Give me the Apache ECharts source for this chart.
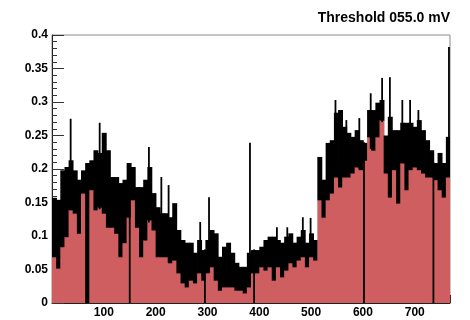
<!DOCTYPE html>
<html>
<head>
<meta charset="utf-8">
<script src="https://cdn.jsdelivr.net/npm/echarts@6/dist/echarts.min.js"></script>
<style>
html,body{margin:0;padding:0;background:#fff;}
#chart{width:470px;height:320px;}
</style>
</head>
<body>
<div id="chart"></div>
<script>
// Histogram: 96 bins of 8 channels each (0..768)
const binWidth = 8;
// top of the black error band per bin
const hiVals = [
0.157,0.154,0.198,0.203,0.213,0.198,0.184,0.198,0.209,0.213,0.228,0.224,0.254,0.228,0.188,0.188,
0.179,0.184,0.209,0.203,0.173,0.173,0.184,0.203,0.164,0.143,0.134,0.134,0.128,0.149,0.109,0.094,
0.090,0.090,0.075,0.094,0.079,0.094,0.109,0.104,0.069,0.084,0.090,0.075,0.060,0.054,0.054,0.075,
0.079,0.079,0.084,0.094,0.099,0.099,0.094,0.090,0.099,0.104,0.090,0.099,0.109,0.090,0.104,0.094,
0.218,0.184,0.239,0.243,0.284,0.288,0.263,0.254,0.248,0.258,0.243,0.239,0.288,0.288,0.299,0.303,
0.250,0.278,0.258,0.258,0.269,0.269,0.269,0.263,0.273,0.258,0.243,0.228,0.209,0.224,0.209,0.248
];
// top of the visible red fill per bin (bottom of the black band)
const loVals = [
0.069,0.052,0.084,0.099,0.139,0.134,0.104,0.164,0.000,0.169,0.139,0.143,0.134,0.113,0.113,0.104,
0.069,0.090,0.128,0.154,0.113,0.069,0.094,0.124,0.109,0.069,0.069,0.069,0.060,0.064,0.045,0.030,
0.024,0.034,0.030,0.045,0.034,0.045,0.054,0.034,0.019,0.024,0.024,0.024,0.019,0.019,0.015,0.024,
0.045,0.045,0.054,0.049,0.054,0.034,0.054,0.039,0.049,0.060,0.054,0.064,0.069,0.054,0.069,0.064,
0.154,0.128,0.154,0.164,0.188,0.173,0.188,0.188,0.194,0.203,0.199,0.213,0.248,0.228,0.248,0.273,
0.194,0.158,0.199,0.149,0.209,0.169,0.199,0.203,0.199,0.194,0.188,0.188,0.184,0.169,0.158,0.188
];
// single-channel spikes / dead channels
const spikeCh = [36,92,150,187,211,225,286,295,303,382,390,434,454,484,499,547,568,593,602,615,637,652,676,691,707,736,766];
const spikeLo = [0.14,0.14,0,0.12,0.07,0.06,0.045,0,0.045,0.069,0,0.054,0.049,0.069,0.069,0.19,0.19,0.2,0,0.23,0.27,0.16,0.21,0.2,0.2,0,0.19];
const spikeHi = [0.275,0.269,0.2,0.233,0.188,0.176,0.121,0.08,0.158,0.239,0.08,0.113,0.113,0.128,0.127,0.303,0.273,0.276,0.24,0.313,0.336,0.337,0.303,0.303,0.288,0.21,0.382];
const xTickLabels = ['100','200','300','400','500','600','700'];
const titleText = 'Threshold 055.0 mV';

const binData = hiVals.map((h, i) => [i * binWidth, (i + 1) * binWidth, loVals[i], h]);
const spikeData = spikeCh.map((c, i) => [c, spikeLo[i], spikeHi[i]]);

const fillColor = '#cf5e61';
const chart = echarts.init(document.getElementById('chart'), null, {renderer: 'canvas'});
const labelFont = {fontFamily: 'Liberation Sans, Arial, sans-serif', fontWeight: 'bold', fontSize: 12, color: '#000'};

chart.setOption({
  animation: false,
  backgroundColor: '#fff',
  title: {
    text: titleText,
    right: 15, top: 6,
    textStyle: {fontFamily: 'Liberation Sans, Arial, sans-serif', fontWeight: 'bold', fontSize: 14, color: '#000'}
  },
  grid: {left: 52, right: 20, top: 35, bottom: 17, show: true, borderColor: '#8a8a8a', borderWidth: 1, backgroundColor: '#fff'},
  xAxis: {
    type: 'value', min: 0, max: 768, interval: 100,
    axisLine: {lineStyle: {color: '#222', width: 1}},
    axisTick: {inside: true, length: 8, lineStyle: {color: '#333'}},
    minorTick: {show: true, splitNumber: 5, length: 4, lineStyle: {color: '#333'}},
    splitLine: {show: false},
    axisLabel: Object.assign({margin: 4, showMinLabel: false, showMaxLabel: false,
      formatter: v => xTickLabels.indexOf(String(v)) >= 0 ? String(v) : ''}, labelFont)
  },
  yAxis: {
    type: 'value', min: 0, max: 0.4, interval: 0.05,
    axisLine: {lineStyle: {color: '#222', width: 1}},
    axisTick: {inside: true, length: 12, lineStyle: {color: '#333'}},
    minorTick: {show: true, splitNumber: 5, length: 5, lineStyle: {color: '#333'}},
    splitLine: {show: false},
    axisLabel: Object.assign({margin: 4}, labelFont)
  },
  series: [
    {
      type: 'custom',
      data: binData,
      clip: true,
      renderItem: function (params, api) {
        const p0 = api.coord([api.value(0), 0]);
        const p1 = api.coord([api.value(1), api.value(3)]);
        const pl = api.coord([api.value(0), api.value(2)]);
        const x = p0[0], w = p1[0] - p0[0] + 0.8;
        return {
          type: 'group',
          children: [
            {type: 'rect', shape: {x: x, y: pl[1], width: w, height: p0[1] - pl[1]}, style: {fill: fillColor, stroke: null}},
            {type: 'rect', shape: {x: x, y: p1[1], width: w, height: pl[1] - p1[1] + 0.5}, style: {fill: '#000', stroke: null}}
          ]
        };
      }
    },
    {
      type: 'custom',
      data: spikeData,
      clip: true,
      renderItem: function (params, api) {
        const a = api.coord([api.value(0), api.value(1)]);
        const b = api.coord([api.value(0), api.value(2)]);
        return {type: 'line', shape: {x1: a[0], y1: a[1], x2: b[0], y2: b[1]}, style: {stroke: '#000', lineWidth: 1.8}};
      }
    }
  ]
});
</script>
</body>
</html>
